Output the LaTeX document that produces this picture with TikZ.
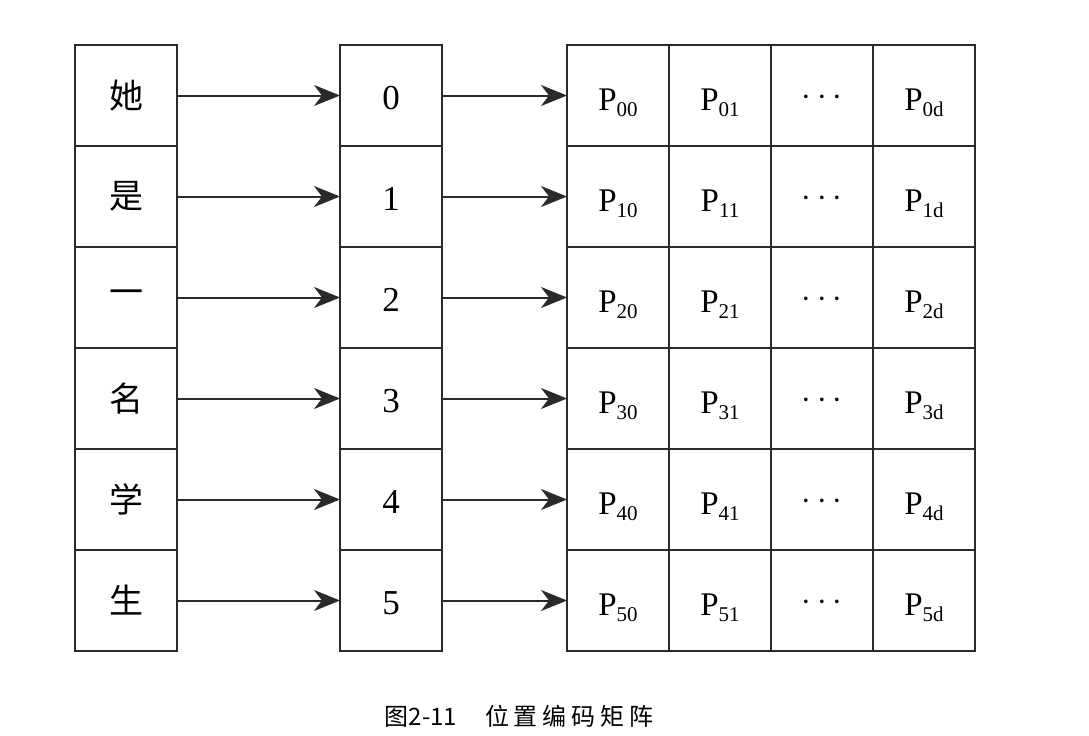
\documentclass[tikz,border=0pt]{standalone}
\usepackage{fontspec}
\setmainfont{Liberation Serif}
\newfontfamily\cjk{Noto Sans CJK SC}
\newfontfamily\cjkcap[LetterSpace=20]{Noto Sans CJK SC}
\usepackage{tikz}
\usetikzlibrary{positioning, arrows.meta}
\definecolor{linegray}{HTML}{2A2A2A}
\tikzstyle{cell} = [rectangle, minimum width=51pt, minimum height=50.5pt, inner sep=0pt, outer sep=0pt, text centered, draw=linegray, line width=1pt]
\tikzstyle{pcellbox} = [cell, text height=16pt, text depth=1.5pt]
\tikzstyle{dotsbox} = [cell, text height=11pt, text depth=1pt]
\tikzstyle{arrow} = [line width=1pt, draw=linegray, -{Stealth[length=13pt, width=10.5pt, inset=4pt]}]
\newcommand{\pcell}[1]{{\fontsize{16.5}{19}\selectfont P}\raisebox{-3pt}{\fontsize{10.5}{12}\selectfont #1}}

\begin{document}
\begin{tikzpicture}
   \useasboundingbox (0,0) rectangle (544.5pt,-367.5pt);
   \foreach \i/\w in {0/她, 1/是, 2/一, 3/名, 4/学, 5/生} {
      \node (w\i) [cell] at (63pt,{-47.75pt-50.5pt*\i}) {\cjk\fontsize{17}{20}\selectfont \w};
      \node (idx\i) [cell, text height=13.5pt, text depth=0pt, right=81.5pt of w\i] {\fontsize{17.5}{20}\selectfont \i};
      \node (p\i0) [pcellbox, right=62.5pt of idx\i] {\pcell{\i0}};
      \node (p\i1) [pcellbox, right=0pt of p\i0] {\pcell{\i1}};
      \node (p\i2) [dotsbox, right=0pt of p\i1] {\fontsize{17}{20}\selectfont $\cdots$};
      \node (p\i3) [pcellbox, right=0pt of p\i2] {\pcell{\i d}};
      \draw [arrow] (w\i) -- (idx\i);
      \draw [arrow] (idx\i) -- (p\i0);
   }
   \node (cap) at (259.5pt,-358pt) {\fontsize{12}{14}\selectfont{\cjk 图2-11}\hspace{14pt}{\cjkcap 位置编码矩阵}};
\end{tikzpicture}
\end{document}
